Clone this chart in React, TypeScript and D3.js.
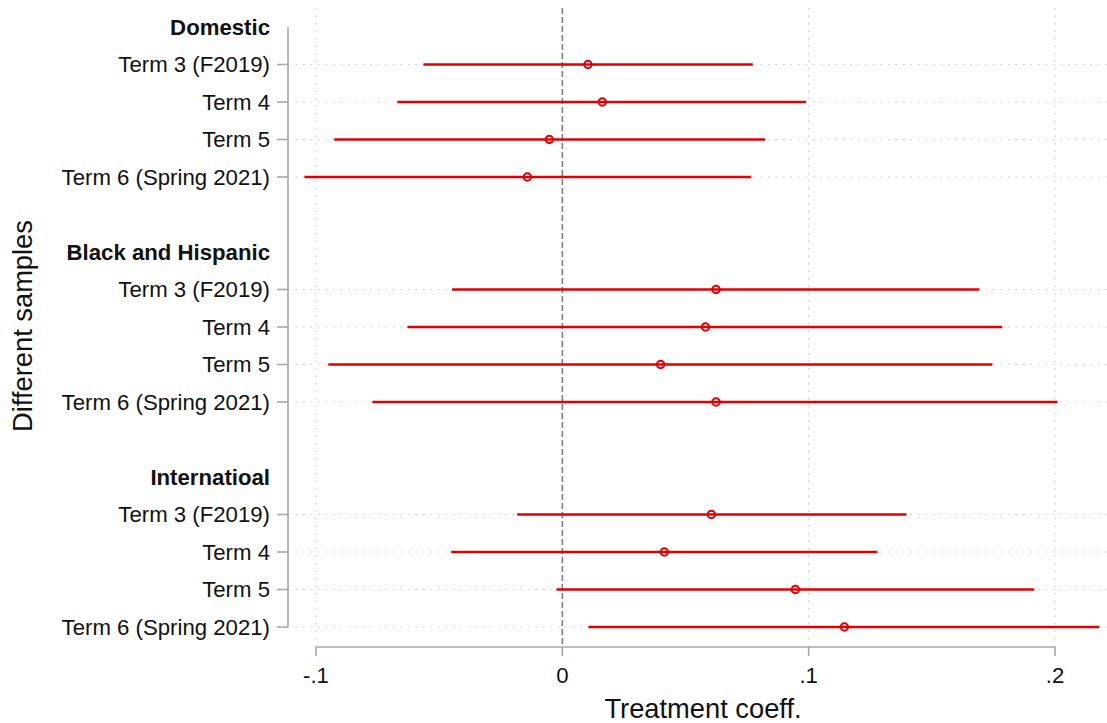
import React from "react";
import * as d3 from "d3";

const groups = ["Domestic", "Black and Hispanic", "Internatioal"];
const terms = ["Term 3 (F2019)", "Term 4", "Term 5", "Term 6 (Spring 2021)"];

const domesticCoef = [0.0104, 0.0162, -0.0053, -0.0142];
const domesticLo = [-0.0564, -0.067, -0.0926, -0.1047];
const domesticHi = [0.0773, 0.0989, 0.0823, 0.0766];

const blackHispCoef = [0.0624, 0.0581, 0.0399, 0.0624];
const blackHispLo = [-0.0448, -0.0629, -0.095, -0.0771];
const blackHispHi = [0.1693, 0.1786, 0.1746, 0.201];

const intlCoef = [0.0605, 0.0414, 0.0946, 0.1145];
const intlLo = [-0.0183, -0.0451, -0.0024, 0.0106];
const intlHi = [0.1397, 0.1279, 0.1916, 0.218];

const xTicks = [-0.1, 0, 0.1, 0.2];
const xTickLabels = ["-.1", "0", ".1", ".2"];

type Row = { slot: number; label: string; header: boolean; coef?: number; lo?: number; hi?: number };

function buildRows(): Row[] {
  const series = [
    [domesticCoef, domesticLo, domesticHi],
    [blackHispCoef, blackHispLo, blackHispHi],
    [intlCoef, intlLo, intlHi],
  ];
  const rows: Row[] = [];
  groups.forEach((g, gi) => {
    const base = gi * 6;
    rows.push({ slot: base, label: g, header: true });
    terms.forEach((t, ti) => {
      rows.push({
        slot: base + 1 + ti,
        label: t,
        header: false,
        coef: series[gi][0][ti],
        lo: series[gi][1][ti],
        hi: series[gi][2][ti],
      });
    });
  });
  return rows;
}

export default function App() {
  const W = 1107;
  const H = 723;
  const x = d3.scaleLinear().domain([-0.1, 0.2]).range([316, 1055]);
  const y = d3.scaleLinear().domain([0, 16]).range([27, 627]);
  const rows = buildRows();
  const red = "#e00000";
  const font = "'Liberation Sans', Arial, sans-serif";
  const axisY = 647;
  const yAxisX = 288;

  return (
    <svg
      width={W}
      height={H}
      style={{ position: "absolute", left: 0, top: 0, background: "#fff" }}
      fontFamily={font}
    >
      <rect x={0} y={0} width={W} height={H} fill="#fff" />
      {/* vertical gridlines */}
      {xTicks.map((t, i) =>
        t === 0 ? null : (
          <line
            key={"vg" + i}
            x1={x(t)}
            x2={x(t)}
            y1={8}
            y2={axisY}
            stroke="#c8c8c8"
            strokeWidth={1.2}
            strokeDasharray="1.5 6"
          />
        )
      )}
      {/* horizontal gridlines */}
      {rows
        .filter((r) => !r.header)
        .map((r, i) => (
          <line
            key={"hg" + i}
            x1={yAxisX}
            x2={W}
            y1={y(r.slot)}
            y2={y(r.slot)}
            stroke="#c8c8c8"
            strokeWidth={1.2}
            strokeDasharray="1.5 6"
          />
        ))}
      {/* zero line */}
      <line
        x1={x(0)}
        x2={x(0)}
        y1={8}
        y2={axisY}
        stroke="#808080"
        strokeWidth={1.6}
        strokeDasharray="6 3"
      />
      {/* y axis */}
      <line x1={yAxisX} x2={yAxisX} y1={y(0)} y2={y(16)} stroke="#a8a8a8" strokeWidth={1.6} />
      {rows.map((r, i) => (
        <g key={"yl" + i}>
          {!r.header && (
            <line x1={yAxisX - 11} x2={yAxisX} y1={y(r.slot)} y2={y(r.slot)} stroke="#a8a8a8" strokeWidth={1.6} />
          )}
          <text
            x={270}
            y={y(r.slot)}
            dy="0.35em"
            textAnchor="end"
            fontSize={22.2}
            fontWeight={r.header ? "bold" : "normal"}
            fill="#111"
          >
            {r.label}
          </text>
        </g>
      ))}
      {/* x axis */}
      <line x1={x(-0.1)} x2={x(0.2)} y1={axisY} y2={axisY} stroke="#a8a8a8" strokeWidth={1.6} />
      {xTicks.map((t, i) => (
        <g key={"xt" + i}>
          <line x1={x(t)} x2={x(t)} y1={axisY} y2={axisY + 9} stroke="#a8a8a8" strokeWidth={1.6} />
          <text x={x(t)} y={675} dy="0.35em" textAnchor="middle" fontSize={22.2} fill="#111">
            {xTickLabels[i]}
          </text>
        </g>
      ))}
      {/* CI lines and points */}
      {rows
        .filter((r) => !r.header)
        .map((r, i) => (
          <g key={"ci" + i}>
            <line
              x1={x(r.lo as number)}
              x2={x(r.hi as number)}
              y1={y(r.slot)}
              y2={y(r.slot)}
              stroke={red}
              strokeWidth={2.4}
            />
            <circle cx={x(r.coef as number)} cy={y(r.slot)} r={3.7} fill="none" stroke={red} strokeWidth={2.1} />
          </g>
        ))}
      {/* titles */}
      <text x={703} y={708} dy="0.35em" textAnchor="middle" fontSize={27.3} fill="#111">
        Treatment coeff.
      </text>
      <text transform="translate(32,326) rotate(-90)" textAnchor="middle" fontSize={27.3} fill="#111">
        Different samples
      </text>
    </svg>
  );
}
